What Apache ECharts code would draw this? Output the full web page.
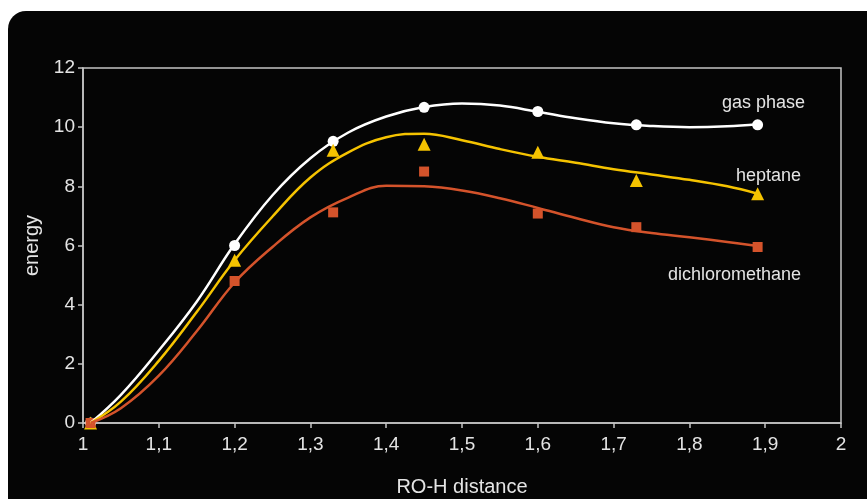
<!DOCTYPE html>
<html>
<head>
<meta charset="utf-8">
<style>
  html, body { margin: 0; padding: 0; background: #fff; }
  #main { width: 867px; height: 499px; }
</style>
<script src="https://cdn.jsdelivr.net/npm/echarts@6/dist/echarts.min.js"></script>
</head>
<body>
<div id="main"></div>
<script>
// measured points (RO-H distance)
const xPoints = [1.01, 1.2, 1.33, 1.45, 1.6, 1.73, 1.89];
const gasPhase = [0, 6.0, 9.52, 10.67, 10.53, 10.08, 10.08];
const heptane = [0, 5.5, 9.22, 9.42, 9.15, 8.2, 7.75];
const dichloromethane = [0, 4.8, 7.12, 8.5, 7.08, 6.62, 5.95];

// smooth trend curves
const xCurve = [1.01, 1.05, 1.1, 1.15, 1.2, 1.25, 1.3, 1.35, 1.4, 1.45, 1.5, 1.55, 1.6, 1.65, 1.7, 1.75, 1.8, 1.85, 1.89];
const gasCurve = [0, 0.95, 2.45, 4.1, 6.05, 7.7, 8.95, 9.82, 10.36, 10.68, 10.8, 10.73, 10.52, 10.3, 10.13, 10.04, 10.0, 10.03, 10.1];
const heptaneCurve = [0, 0.72, 2.1, 3.75, 5.5, 6.98, 8.3, 9.15, 9.66, 9.78, 9.56, 9.26, 9.0, 8.8, 8.58, 8.4, 8.22, 8.0, 7.75];
const dcmCurve = [0, 0.5, 1.6, 3.1, 4.75, 5.95, 6.95, 7.62, 8.02, 8.0, 7.86, 7.6, 7.27, 6.93, 6.62, 6.42, 6.28, 6.12, 5.98];

const zip = (xs, ys) => xs.map((x, i) => [x, ys[i]]);

const txt = "#e4e4e4";
const font = "Liberation Sans";
const frame = "#c4c4c4";
const cWhite = "#ffffff", cYellow = "#f5c300", cRed = "#d4532b";

let myChart = echarts.init(document.getElementById("main"));

let option = {
  backgroundColor: "#fff",
  animation: false,
  textStyle: { fontFamily: font },
  grid: { left: 83, right: 26, top: 68, bottom: 76, outerBoundsMode: "none", show: true, borderColor: frame, borderWidth: 1.5 },
  graphic: [
    { type: "rect", z: -10, shape: { x: 8, y: 11, width: 900, height: 520, r: 18 }, style: { fill: "#050505" } },
    { type: "text", left: 722, top: 94, style: { text: "gas phase", fill: txt, font: "18px Liberation Sans" } },
    { type: "text", left: 736, top: 167, style: { text: "heptane", fill: txt, font: "18px Liberation Sans" } },
    { type: "text", left: 668, top: 266, style: { text: "dichloromethane", fill: txt, font: "18px Liberation Sans" } }
  ],
  xAxis: {
    type: "value",
    min: 1,
    max: 2,
    interval: 0.1,
    name: "RO-H distance",
    nameLocation: "middle",
    nameGap: 54,
    nameTextStyle: { color: txt, fontSize: 20, fontFamily: font },
    axisLine: { show: true, onZero: false, lineStyle: { color: frame, width: 1.5 } },
    axisTick: { show: true, length: 5, lineStyle: { color: frame, width: 1.5 } },
    axisLabel: {
      color: txt,
      fontSize: 19,
      margin: 12,
      formatter: function(v) {
        let r = Math.round(v * 10) / 10;
        return Number.isInteger(r) ? String(r) : r.toFixed(1).replace(".", ",");
      }
    },
    splitLine: { show: false }
  },
  yAxis: {
    type: "value",
    min: 0,
    max: 12,
    interval: 2,
    name: "energy",
    nameLocation: "middle",
    nameGap: 40,
    nameTextStyle: { color: txt, fontSize: 20, fontFamily: font },
    axisLine: { show: true, lineStyle: { color: frame, width: 1.5 } },
    axisTick: { show: true, length: 5, lineStyle: { color: frame, width: 1.5 } },
    axisLabel: { color: txt, fontSize: 19, margin: 8 },
    splitLine: { show: false }
  },
  series: [
    { name: "gas phase fit", type: "line", smooth: 0.4, showSymbol: false, data: zip(xCurve, gasCurve), lineStyle: { color: cWhite, width: 2.5 } },
    { name: "heptane fit", type: "line", smooth: 0.4, showSymbol: false, data: zip(xCurve, heptaneCurve), lineStyle: { color: cYellow, width: 2.5 } },
    { name: "dichloromethane fit", type: "line", smooth: 0.4, showSymbol: false, data: zip(xCurve, dcmCurve), lineStyle: { color: cRed, width: 2.5 } },
    { name: "gas phase", type: "scatter", symbol: "circle", symbolSize: 11, data: zip(xPoints, gasPhase), itemStyle: { color: cWhite, opacity: 1 } },
    { name: "heptane", type: "scatter", symbol: "triangle", symbolSize: 13, data: zip(xPoints, heptane), itemStyle: { color: cYellow, opacity: 1 } },
    { name: "dichloromethane", type: "scatter", symbol: "rect", symbolSize: 10, data: zip(xPoints, dichloromethane), itemStyle: { color: cRed, opacity: 1 } }
  ]
};

myChart.setOption(option);
</script>
</body>
</html>
